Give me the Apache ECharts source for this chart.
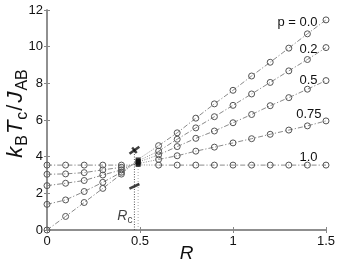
<!DOCTYPE html>
<html><head><meta charset="utf-8">
<script src="https://cdn.jsdelivr.net/npm/echarts@6/dist/echarts.min.js"></script>
<style>html,body{margin:0;padding:0;background:#fff}#c{width:339px;height:266px}</style>
</head><body><div id="c"></div>
<script>
// ---- data ----
const pLabels = ['p = 0.0', '0.2', '0.5', '0.75', '1.0'];
const xTickLabels = ['0', '0.5', '1', '1.5'];
const yTickLabels = ['0', '2', '4', '6', '8', '10', '12'];
const R_left = [0, 0.1, 0.2, 0.3, 0.4];
const R_right = [0.6, 0.7, 0.8, 0.9, 1.0, 1.1, 1.2, 1.3, 1.4, 1.5];
const R_crit = 0.49;
const R_c = 0.47;
const left_p00 = [0, 0.74, 1.5, 2.27, 3.05];
const left_p02 = [1.4, 1.64, 2.1, 2.6, 3.15];
const left_p05 = [2.42, 2.55, 2.7, 3.0, 3.28];
const left_p075 = [3.04, 3.06, 3.13, 3.28, 3.42];
const left_p10 = [3.54, 3.54, 3.54, 3.54, 3.54];
const right_p00 = [4.6, 5.3, 6.1, 6.88, 7.62, 8.4, 9.15, 9.92, 10.7, 11.46];
const right_p02 = [4.3, 4.95, 5.57, 6.18, 6.8, 7.42, 8.05, 8.68, 9.3, 9.95];
const right_p05 = [4.1, 4.55, 5.0, 5.4, 5.85, 6.3, 6.78, 7.22, 7.68, 8.15];
const right_p075 = [3.85, 4.05, 4.3, 4.52, 4.75, 4.98, 5.22, 5.45, 5.68, 5.95];
const right_p10 = [3.54, 3.54, 3.54, 3.54, 3.54, 3.54, 3.54, 3.54, 3.54, 3.54];
const crit_vals = [3.85, 3.77, 3.7, 3.62, 3.55];
const jump_upper = 4.35;
const jump_lower = 2.38;
const Rc_line_top = 4.45;
const Rc_label_y = 0.75;

const leftSets = [left_p00, left_p02, left_p05, left_p075, left_p10];
const rightSets = [right_p00, right_p02, right_p05, right_p075, right_p10];

// ---- styles ----
const lineCol = '#8a8a8a';
const markCol = '#555';
const dashDot = [5, 2, 1.2, 2];
const labelOffsets = [[0, 3], [0, 2], [0, 0], [4, -6], [0, -8]];
const font = 'Liberation Sans, Arial, sans-serif';

const series = [];
const markerStyle = { color: 'rgba(0,0,0,0)', borderColor: markCol, borderWidth: 1 };
for (let i = 0; i < 5; i++) {
  series.push({
    type: 'line', data: R_left.map((r, j) => [r, leftSets[i][j]]),
    symbol: 'circle', symbolSize: 6, itemStyle: markerStyle,
    lineStyle: { color: lineCol, width: 1, type: dashDot }, z: 3, silent: true
  });
  const rd = R_right.map((r, j) => [r, rightSets[i][j]]);
  const last = rd.length - 1;
  const data = rd.map((v, j) => j === last ? {
    value: v,
    label: { show: true, formatter: pLabels[i], position: 'left', distance: 5,
      offset: labelOffsets[i], color: '#111', fontSize: 13, fontFamily: font }
  } : v);
  series.push({
    type: 'line', data: data,
    symbol: 'circle', symbolSize: 6, itemStyle: markerStyle,
    lineStyle: { color: lineCol, width: 1, type: dashDot }, z: 3, silent: true
  });
  series.push({
    type: 'line',
    data: [[R_left[R_left.length - 1], leftSets[i][leftSets[i].length - 1]],
           [R_crit, crit_vals[i]], [R_right[0], rightSets[i][0]]],
    symbol: 'none', lineStyle: { color: lineCol, width: 1, type: [1, 1.5] }, z: 2, silent: true
  });
}
// critical cluster
series.push({
  type: 'scatter', data: crit_vals.map(v => [R_crit, v]),
  symbol: 'rect', symbolSize: [5, 4], itemStyle: { color: '#111' }, z: 5, silent: true
});
// vertical dotted lines
series.push({
  type: 'line', data: [[R_c, 0], [R_c, Rc_line_top]], symbol: 'none',
  lineStyle: { color: '#555', width: 1, type: [1, 1.5] }, z: 2, silent: true
});
series.push({
  type: 'line', data: [[R_crit, 0], [R_crit, crit_vals[crit_vals.length - 1]]], symbol: 'none',
  lineStyle: { color: '#aaa', width: 1, type: [1, 2] }, z: 1, silent: true
});
// jump marks
series.push({
  type: 'scatter', data: [[R_c, jump_upper]], symbol: 'rect', symbolSize: [12, 2.6], symbolRotate: 35,
  itemStyle: { color: '#111' }, z: 6, silent: true
});
series.push({
  type: 'scatter', data: [[R_c, jump_upper]], symbol: 'rect', symbolSize: [7, 2.4], symbolRotate: -50,
  itemStyle: { color: '#111' }, z: 6, silent: true
});
series.push({
  type: 'scatter', data: [[R_c, jump_lower]], symbol: 'rect', symbolSize: [11, 2.6], symbolRotate: 25,
  itemStyle: { color: '#111' }, z: 6, silent: true
});
// Rc label
series.push({
  type: 'scatter', data: [[R_c, Rc_label_y]], symbolSize: 0, silent: true,
  label: { show: true, position: 'left', distance: 2, formatter: '{r|R}{c|c}',
    rich: {
      r: { fontSize: 14, fontStyle: 'italic', color: '#111', fontFamily: font, lineHeight: 18, verticalAlign: 'middle' },
      c: { fontSize: 10, color: '#111', fontFamily: font, lineHeight: 18, verticalAlign: 'bottom' }
    } }
});

const axLine = { show: true, lineStyle: { color: '#888', width: 1.5 } };
const axTick = { show: true, inside: true, length: 3, lineStyle: { color: '#888' } };

const option = {
  animation: false,
  backgroundColor: '#fff',
  grid: { left: 47, right: 13, top: 10, bottom: 36, containLabel: false, outerBoundsMode: 'none' },
  xAxis: [{
    type: 'value', min: 0, max: 1.5, interval: 0.5, position: 'bottom',
    axisLine: axLine, axisTick: axTick, splitLine: { show: false },
    axisLabel: { color: '#111', fontSize: 13, margin: 5, fontFamily: font,
      formatter: v => xTickLabels[Math.round(v / 0.5)] },
    name: 'R', nameLocation: 'middle', nameGap: 14, nameMoveOverlap: false,
    nameTextStyle: { fontStyle: 'italic', fontSize: 19, color: '#111', fontFamily: font }
  }, {
    type: 'value', min: 0, max: 1.5, interval: 0.5, position: 'top',
    axisLine: axLine, axisTick: axTick, splitLine: { show: false }, axisLabel: { show: false }
  }],
  yAxis: [{
    type: 'value', min: 0, max: 12, interval: 2, position: 'left',
    axisLine: axLine, axisTick: axTick, splitLine: { show: false },
    axisLabel: { color: '#111', fontSize: 13, margin: 4, fontFamily: font,
      formatter: v => yTickLabels[Math.round(v / 2)] },
    name: '{i|k}{s|B}{i|T}{s|c}{n|/}{i|J}{s|AB}', nameLocation: 'middle', nameGap: 16, nameMoveOverlap: false,
    nameTextStyle: {
      padding: [0, 0, 0, 12],
      rich: {
        i: { fontSize: 22, fontStyle: 'italic', color: '#111', fontFamily: font, lineHeight: 30, verticalAlign: 'middle', padding: [0, 1] },
        n: { fontSize: 22, color: '#111', fontFamily: font, lineHeight: 30, verticalAlign: 'middle', padding: [0, 1] },
        s: { fontSize: 16, color: '#111', fontFamily: font, lineHeight: 30, verticalAlign: 'bottom' }
      }
    }
  }, {
    type: 'value', min: 0, max: 12, interval: 2, position: 'right',
    axisLine: axLine, axisTick: axTick, splitLine: { show: false }, axisLabel: { show: false }
  }],
  series: series
};
const chart = echarts.init(document.getElementById('c'), null, { renderer: 'canvas' });
chart.setOption(option);
</script>
</body></html>
